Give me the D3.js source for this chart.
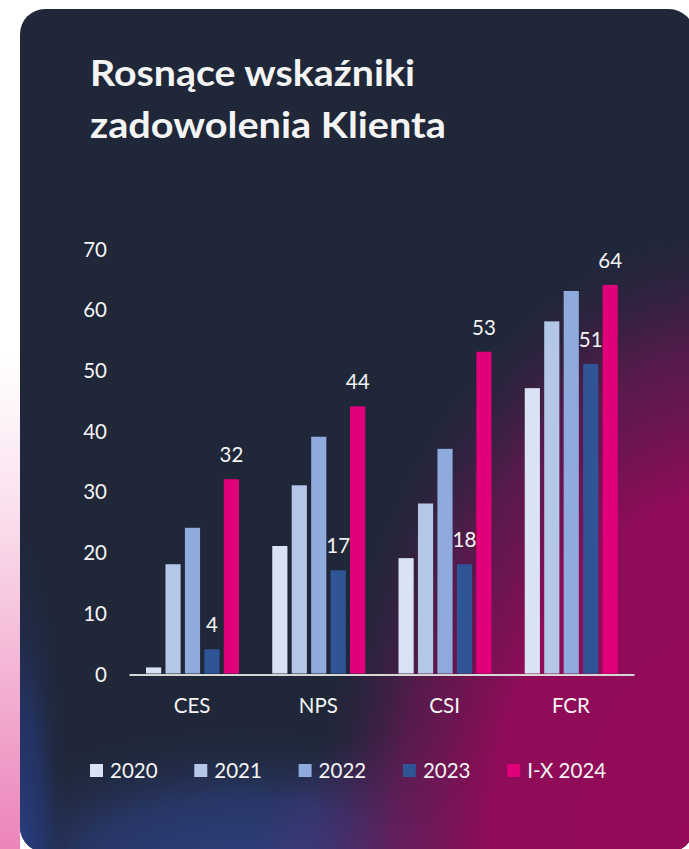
<!DOCTYPE html>
<html>
<head>
<meta charset="utf-8">
<script src="https://cdn.jsdelivr.net/npm/d3@7"></script>
<style>
  body { margin: 0; background: #ffffff; }
  svg { display: block; }
  text { font-family: Lato, "Open Sans", sans-serif; fill: #f4f4f4; }
</style>
</head>
<body>
<div id="chart"></div>
<script>
// chart data
const categories = ["CES", "NPS", "CSI", "FCR"];
const seriesNames = ["2020", "2021", "2022", "2023", "I-X 2024"];
const values2020 = [1, 21, 19, 47];
const values2021 = [18, 31, 28, 58];
const values2022 = [24, 39, 37, 63];
const values2023 = [4, 17, 18, 51];
const values2024 = [32, 44, 53, 64];
const yTicks = [0, 10, 20, 30, 40, 50, 60, 70];
const labelledSeries = ["2023", "I-X 2024"];
const titleLines = ["Rosnące wskaźniki", "zadowolenia Klienta"];

const colors = ["#dae3f3", "#b4c7e7", "#8faadc", "#2f5597", "#e2007a"];

const W = 689, H = 849;
const allValues = [values2020, values2021, values2022, values2023, values2024];
const rows = categories.map((c, i) => ({
    category: c,
    items: seriesNames.map((s, j) => ({ series: s, value: allValues[j][i] }))
}));

const svg = d3.select("#chart").append("svg")
    .attr("width", W).attr("height", H);

const defs = svg.append("defs");

function radial(id, transform, r, stops) {
    const g = defs.append("radialGradient").attr("id", id)
        .attr("gradientUnits", "userSpaceOnUse")
        .attr("cx", 0).attr("cy", 0).attr("r", r)
        .attr("gradientTransform", transform);
    stops.forEach(s => g.append("stop")
        .attr("offset", s[0]).attr("stop-color", s[1]).attr("stop-opacity", s[2]));
}

// page background outside of the card
const side = defs.append("linearGradient").attr("id", "side")
    .attr("x1", 0).attr("y1", 0).attr("x2", 0).attr("y2", 1);
side.append("stop").attr("offset", "0.42").attr("stop-color", "#ffffff");
side.append("stop").attr("offset", "0.6").attr("stop-color", "#fbe0ee");
side.append("stop").attr("offset", "1").attr("stop-color", "#ec84ba");

// card glows
radial("bottomGlow", "translate(240,880) scale(1,0.5)", 300, [
    [0, "#2f4282", 1], [0.55, "#2b3b74", 0.75], [1, "#222c48", 0]
]);
radial("edgeGlow", "translate(20,880) scale(1,7)", 50, [
    [0, "#2a4088", 0.95], [0.5, "#27397a", 0.6], [1, "#1f2a44", 0]
]);
radial("purpleGlow", "translate(410,880) scale(1,0.9)", 170, [
    [0, "#5e3484", 0.9], [1, "#5a3380", 0]
]);
radial("pinkGlow", "translate(730,870) scale(1,1.55)", 420, [
    [0, "#960a5a", 1], [0.58, "#8e0c58", 1], [0.8, "#6c1652", 0.7], [1, "#3a1d44", 0]
]);

svg.append("rect").attr("width", 20).attr("height", H).attr("fill", "url(#side)");

const card = { x: 20, y: 9, w: 674, h: 843, r: 25 };
["#1f2739", "url(#bottomGlow)", "url(#edgeGlow)", "url(#purpleGlow)", "url(#pinkGlow)"].forEach(f => {
    svg.append("rect")
        .attr("x", card.x).attr("y", card.y)
        .attr("width", card.w).attr("height", card.h)
        .attr("rx", card.r)
        .attr("fill", f);
});

// title
const titleWidths = [325, 356];
svg.append("g").selectAll("text")
    .data(titleLines)
    .join("text")
    .attr("x", 90)
    .attr("y", (d, i) => 86 + i * 52)
    .attr("font-size", 36)
    .attr("font-weight", 700)
    .attr("fill", "#ffffff")
    .attr("textLength", (d, i) => titleWidths[i])
    .attr("lengthAdjust", "spacingAndGlyphs")
    .text(d => d);

// scales
const x0 = d3.scaleBand().domain(categories).range([129, 634]).padding(0);
const x1 = d3.scaleBand().domain(seriesNames).range([17, 110]).paddingInner(0.22).paddingOuter(0);
const y = d3.scaleLinear().domain([0, 70]).range([673.5, 248.5]);
const color = d3.scaleOrdinal().domain(seriesNames).range(colors);

// y axis labels only
const yAxis = d3.axisLeft(y).tickValues(yTicks).tickSize(0).tickPadding(0);
const yg = svg.append("g").attr("transform", "translate(107,1)").call(yAxis);
yg.select(".domain").remove();
yg.selectAll("text")
    .attr("font-size", 20.5)
    .attr("font-family", "Lato, sans-serif")
    .attr("fill", "#f2f2f2");

// bars
const groups = svg.append("g").selectAll("g")
    .data(rows)
    .join("g")
    .attr("transform", d => `translate(${x0(d.category)},0)`);

groups.selectAll("rect")
    .data(d => d.items)
    .join("rect")
    .attr("x", d => x1(d.series))
    .attr("y", d => y(d.value))
    .attr("width", x1.bandwidth())
    .attr("height", d => y(0) - y(d.value))
    .attr("fill", d => color(d.series));

groups.selectAll("text")
    .data(d => d.items.filter(it => labelledSeries.includes(it.series)))
    .join("text")
    .attr("x", d => x1(d.series) + x1.bandwidth() / 2)
    .attr("y", d => y(d.value) - 17)
    .attr("text-anchor", "middle")
    .attr("font-size", 20.5)
    .text(d => d.value);

// x axis
const xAxis = d3.axisBottom(x0).tickSize(0).tickPadding(0);
const xg = svg.append("g").attr("transform", "translate(0,674.5)").call(xAxis);
xg.select(".domain").attr("stroke", "#d6d6d6").attr("stroke-width", 2);
xg.selectAll("text")
    .attr("font-size", 20.5)
    .attr("font-family", "Lato, sans-serif")
    .attr("fill", "#f4f4f4")
    .attr("dy", 0)
    .attr("y", 38);

// legend
const legend = svg.append("g").selectAll("g")
    .data(seriesNames)
    .join("g")
    .attr("transform", (d, i) => `translate(${90 + i * 104.3},764)`);
legend.append("rect")
    .attr("width", 13).attr("height", 13)
    .attr("fill", d => color(d));
legend.append("text")
    .attr("x", 20).attr("y", 14)
    .attr("font-size", 20.5)
    .text(d => d);
</script>
</body>
</html>
